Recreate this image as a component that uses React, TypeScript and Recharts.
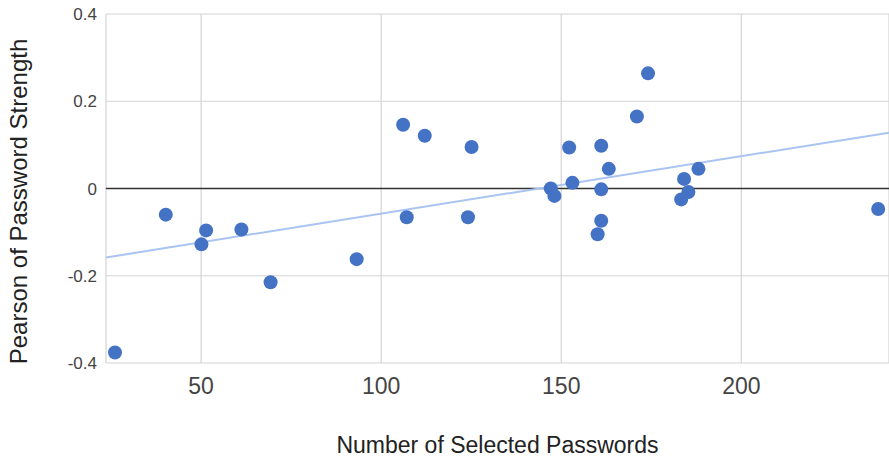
import React from "react";
import {
  ScatterChart,
  Scatter,
  XAxis,
  YAxis,
  CartesianGrid,
  ReferenceLine,
} from "recharts";

// Number of selected passwords per sample
const passwordCounts = [
  26.1, 40.2, 51.4, 50.1, 61.2, 69.3, 93.2, 106.1, 112.1, 125.1, 107.1, 124.1,
  147.1, 148.1, 152.2, 153.1, 174.1, 171.0, 161.1, 163.2, 161.1, 161.1, 160.1,
  184.1, 188.1, 185.3, 183.3, 238.0,
];

// Pearson correlation of password strength for each sample
const pearsonValues = [
  -0.376, -0.06, -0.096, -0.128, -0.094, -0.215, -0.162, 0.146, 0.121, 0.095,
  -0.066, -0.066, 0.0, -0.017, 0.094, 0.013, 0.264, 0.165, 0.098, 0.045,
  -0.002, -0.074, -0.105, 0.022, 0.045, -0.008, -0.025, -0.047,
];

const xTicks = [50, 100, 150, 200];
const yTicks = [-0.4, -0.2, 0, 0.2, 0.4];
const xDomain = [23.6, 241];
const yDomain = [-0.4, 0.4];

const points = passwordCounts.map((x, i) => ({ x, y: pearsonValues[i] }));

// Least-squares linear trendline over the points
const n = points.length;
const meanX = points.reduce((s, p) => s + p.x, 0) / n;
const meanY = points.reduce((s, p) => s + p.y, 0) / n;
const sxy = points.reduce((s, p) => s + (p.x - meanX) * (p.y - meanY), 0);
const sxx = points.reduce((s, p) => s + (p.x - meanX) ** 2, 0);
const slope = sxy / sxx;
const intercept = meanY - slope * meanX;
const trendSegment = xDomain.map((x) => ({ x, y: intercept + slope * x }));

const FONT = '"Liberation Sans", Arial, sans-serif';

const XTick = (props: any) => {
  const { x, y, payload } = props;
  return (
    <text
      x={x}
      y={y}
      dy="0.71em"
      textAnchor="middle"
      fill="#444"
      fontSize={23}
      fontFamily={FONT}
    >
      {payload.value}
    </text>
  );
};

const YTick = (props: any) => {
  const { x, y, payload } = props;
  const v = payload.value;
  const label = v === 0 ? "0" : v.toFixed(1);
  return (
    <text
      x={x}
      y={y}
      dy="0.355em"
      textAnchor="end"
      fill="#444"
      fontSize={17}
      fontFamily={FONT}
    >
      {label}
    </text>
  );
};

const Dot = (props: any) => {
  const { cx, cy } = props;
  return <circle cx={cx} cy={cy} r={7} fill="#4472C4" />;
};

export default function App() {
  return (
    <div style={{ position: "absolute", left: 0, top: 0, background: "#fff" }}>
      <ScatterChart
        width={889}
        height={461}
        margin={{ top: 14, right: 0, bottom: 0, left: 0 }}
      >
        <CartesianGrid stroke="#d4d4d4" strokeWidth={1.2} />
        <XAxis
          type="number"
          dataKey="x"
          domain={xDomain}
          ticks={xTicks}
          allowDataOverflow
          axisLine={false}
          tickLine={false}
          tickSize={0}
          tickMargin={15}
          height={98}
          tick={<XTick />}
          label={{
            content: (p: any) => {
              const vb = p.viewBox;
              return (
                <text
                  x={vb.x + vb.width / 2}
                  y={vb.y + 90}
                  textAnchor="middle"
                  fill="#222"
                  fontSize={23}
                  fontFamily={FONT}
                >
                  Number of Selected Passwords
                </text>
              );
            },
          }}
        />
        <YAxis
          type="number"
          dataKey="y"
          domain={yDomain}
          ticks={yTicks}
          allowDataOverflow
          axisLine={false}
          tickLine={false}
          tickSize={0}
          tickMargin={9}
          width={106}
          tick={<YTick />}
          label={{
            content: (p: any) => {
              const vb = p.viewBox;
              const cx = 27;
              const cy = vb.y + vb.height / 2 + 13;
              return (
                <text
                  x={cx}
                  y={cy}
                  transform={`rotate(-90, ${cx}, ${cy})`}
                  textAnchor="middle"
                  fill="#222"
                  fontSize={24}
                  fontFamily={FONT}
                >
                  Pearson of Password Strength
                </text>
              );
            },
          }}
        />
        <ReferenceLine y={0} stroke="#333" strokeWidth={1.5} />
        <ReferenceLine
          segment={trendSegment}
          stroke="#a9c4f2"
          strokeWidth={2}
        />
        <Scatter
          data={points}
          shape={<Dot />}
          isAnimationActive={false}
        />
      </ScatterChart>
    </div>
  );
}
